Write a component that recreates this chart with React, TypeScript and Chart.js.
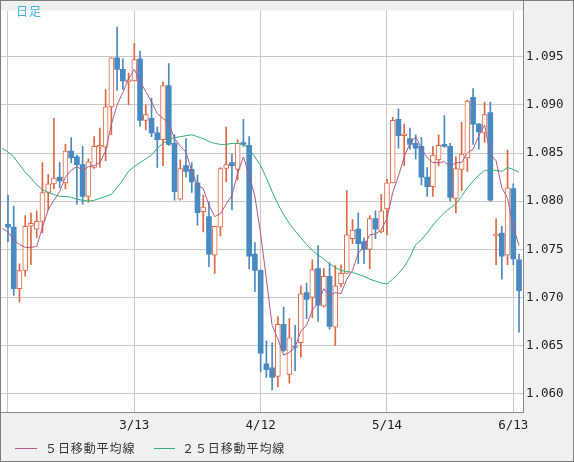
import React, { useEffect, useRef } from 'react';
import { Chart, registerables } from 'chart.js';

Chart.register(...registerables);

// Daily EUR/USD candles (index 0 = 2/12 ... 89 = 6/14)
const openP = [
  1.0776, 1.0773, 1.0709, 1.0728, 1.0774, 1.0771, 1.0779, 1.0809, 1.0818, 1.0825,
  1.0819, 1.0852, 1.0846, 1.0838, 1.0805, 1.0835, 1.0856, 1.0856, 1.0898, 1.0949,
  1.0937, 1.0924, 1.0925, 1.0948, 1.0884, 1.0886, 1.0871, 1.0864, 1.0920, 1.0860,
  1.0802, 1.0837, 1.0833, 1.0819, 1.0789, 1.0784, 1.0744, 1.0773, 1.0834, 1.0840,
  1.0833, 1.0861, 1.0858, 1.0745, 1.0728, 1.0631, 1.0627, 1.0618, 1.0672, 1.0620,
  1.0649, 1.0653, 1.0705, 1.0700, 1.0730, 1.0691, 1.0722, 1.0669, 1.0714, 1.0725,
  1.0761, 1.0771, 1.0758, 1.0750, 1.0782, 1.0768, 1.0792, 1.0819, 1.0885, 1.0868,
  1.0865, 1.0860, 1.0857, 1.0825, 1.0815, 1.0843, 1.0859, 1.0857, 1.0803, 1.0833,
  1.0845, 1.0908, 1.0880, 1.0871, 1.0892, 1.0764, 1.0767, 1.0744, 1.0813, 1.0739,
];
const highP = [
  1.0806, 1.0795, 1.0735, 1.0785, 1.0788, 1.0790, 1.0840, 1.0828, 1.0886, 1.0840,
  1.0859, 1.0866, 1.0848, 1.0857, 1.0844, 1.0867, 1.0876, 1.0916, 1.0949, 1.0981,
  1.0948, 1.0933, 1.0964, 1.0956, 1.0900, 1.0907, 1.0877, 1.0924, 1.0943, 1.0869,
  1.0843, 1.0865, 1.0840, 1.0827, 1.0806, 1.0799, 1.0774, 1.0835, 1.0877, 1.0849,
  1.0864, 1.0885, 1.0867, 1.0757, 1.0729, 1.0655, 1.0653, 1.0680, 1.0690, 1.0678,
  1.0671, 1.0712, 1.0715, 1.0739, 1.0754, 1.0730, 1.0736, 1.0733, 1.0734, 1.0811,
  1.0781, 1.0788, 1.0762, 1.0785, 1.0790, 1.0807, 1.0823, 1.0887, 1.0896, 1.0880,
  1.0876, 1.0869, 1.0866, 1.0835, 1.0857, 1.0869, 1.0889, 1.0860, 1.0846, 1.0882,
  1.0905, 1.0917, 1.0881, 1.0903, 1.0903, 1.0782, 1.0774, 1.0853, 1.0818, 1.0745,
];
const lowP = [
  1.0758, 1.0702, 1.0695, 1.0722, 1.0734, 1.0762, 1.0767, 1.0791, 1.0813, 1.0814,
  1.0813, 1.0840, 1.0797, 1.0797, 1.0799, 1.0834, 1.0835, 1.0842, 1.0869, 1.0915,
  1.0916, 1.0900, 1.0925, 1.0878, 1.0874, 1.0867, 1.0835, 1.0837, 1.0858, 1.0801,
  1.0801, 1.0825, 1.0809, 1.0775, 1.0768, 1.0732, 1.0725, 1.0764, 1.0820, 1.0791,
  1.0822, 1.0857, 1.0730, 1.0706, 1.0623, 1.0617, 1.0604, 1.0607, 1.0644, 1.0611,
  1.0624, 1.0638, 1.0678, 1.0679, 1.0675, 1.0690, 1.0667, 1.0650, 1.0711, 1.0725,
  1.0756, 1.0735, 1.0735, 1.0730, 1.0761, 1.0767, 1.0765, 1.0819, 1.0855, 1.0837,
  1.0854, 1.0844, 1.0817, 1.0805, 1.0805, 1.0837, 1.0856, 1.0800, 1.0788, 1.0811,
  1.0831, 1.0859, 1.0854, 1.0861, 1.0800, 1.0734, 1.0719, 1.0734, 1.0734, 1.0664,
];
const closeP = [
  1.0773, 1.0709, 1.0728, 1.0774, 1.0777, 1.0779, 1.0809, 1.0818, 1.0824, 1.0821,
  1.0852, 1.0845, 1.0838, 1.0805, 1.0841, 1.0857, 1.0857, 1.0898, 1.0949, 1.0937,
  1.0925, 1.0925, 1.0947, 1.0884, 1.0890, 1.0871, 1.0864, 1.0920, 1.0859, 1.0810,
  1.0834, 1.0831, 1.0820, 1.0788, 1.0794, 1.0745, 1.0774, 1.0834, 1.0838, 1.0837,
  1.0860, 1.0859, 1.0743, 1.0728, 1.0642, 1.0625, 1.0617, 1.0672, 1.0645, 1.0658,
  1.0648, 1.0704, 1.0698, 1.0729, 1.0692, 1.0722, 1.0670, 1.0712, 1.0725, 1.0765,
  1.0770, 1.0756, 1.0750, 1.0782, 1.0771, 1.0790, 1.0819, 1.0884, 1.0868, 1.0870,
  1.0859, 1.0855, 1.0825, 1.0815, 1.0848, 1.0858, 1.0857, 1.0804, 1.0834, 1.0849,
  1.0904, 1.0880, 1.0872, 1.0890, 1.0801, 1.0765, 1.0743, 1.0814, 1.0740, 1.0707,
];

// Moving averages, starting at index -1
const maStart = -1;
const ma5 = [
  1.0772,
  1.0768, 1.0760, 1.0755, 1.0752, 1.0752, 1.0753, 1.0773, 1.0791, 1.0801, 1.0810,
  1.0825, 1.0832, 1.0836, 1.0832, 1.0836, 1.0837, 1.0840, 1.0852, 1.0880, 1.0900,
  1.0913, 1.0927, 1.0937, 1.0924, 1.0914, 1.0903, 1.0891, 1.0886, 1.0881, 1.0865,
  1.0857, 1.0851, 1.0831, 1.0817, 1.0813, 1.0796, 1.0784, 1.0787, 1.0797, 1.0806,
  1.0829, 1.0846, 1.0827, 1.0805, 1.0766, 1.0719, 1.0671, 1.0657, 1.0640, 1.0643,
  1.0648, 1.0665, 1.0671, 1.0687, 1.0694, 1.0709, 1.0702, 1.0705, 1.0704, 1.0719,
  1.0728, 1.0746, 1.0753, 1.0765, 1.0766, 1.0770, 1.0782, 1.0809, 1.0826, 1.0846,
  1.0860, 1.0867, 1.0855, 1.0845, 1.0840, 1.0840, 1.0841, 1.0836, 1.0840, 1.0840,
  1.0850, 1.0854, 1.0868, 1.0879, 1.0849, 1.0842, 1.0814, 1.0803, 1.0773, 1.0754,
];
const ma25 = [
  1.0855,
  1.0851, 1.0846, 1.0838, 1.0830, 1.0824, 1.0817, 1.0812, 1.0809, 1.0807, 1.0805,
  1.0805, 1.0804, 1.0802, 1.0801, 1.0800, 1.0801, 1.0803, 1.0805, 1.0807, 1.0814,
  1.0822, 1.0831, 1.0836, 1.0840, 1.0844, 1.0848, 1.0855, 1.0860, 1.0864, 1.0866,
  1.0867, 1.0868, 1.0869, 1.0867, 1.0865, 1.0862, 1.0860, 1.0859, 1.0859, 1.0860,
  1.0860, 1.0859, 1.0854, 1.0846, 1.0837, 1.0824, 1.0810, 1.0797, 1.0786, 1.0777,
  1.0769, 1.0762, 1.0755, 1.0749, 1.0744, 1.0740, 1.0735, 1.0731, 1.0728, 1.0727,
  1.0726, 1.0724, 1.0722, 1.0719, 1.0717, 1.0715, 1.0714, 1.0719, 1.0725, 1.0732,
  1.0742, 1.0755, 1.0760, 1.0767, 1.0775, 1.0782, 1.0788, 1.0793, 1.0797, 1.0805,
  1.0814, 1.0821, 1.0827, 1.0832, 1.0832, 1.0832, 1.0831, 1.0835, 1.0833, 1.0830,
];

const gridIdx = [0, 22, 44, 66, 88];
const gridLabels = ['', '3/13', '4/12', '5/14', '6/13'];
const yTicks = [1.06, 1.065, 1.07, 1.075, 1.08, 1.085, 1.09, 1.095];
const legendLabels = ['５日移動平均線', '２５日移動平均線'];
const periodLabel = '日足';

const UP = '#e0673f';
const DOWN = '#4a8ac2';
const MA5C = '#b0598a';
const MA25C = '#2fb07a';

const framePlugin = {
  id: 'frame',
  beforeDraw(chart: any) {
    const { ctx, width, height, chartArea: a } = chart;
    ctx.save();
    ctx.fillStyle = '#f0f0f0';
    ctx.fillRect(0, 0, width, height);
    ctx.fillStyle = '#ffffff';
    ctx.fillRect(a.left, a.top, a.right - a.left, a.bottom - a.top);
    ctx.restore();
  },
  afterDraw(chart: any) {
    const { ctx, width, height, chartArea: a } = chart;
    ctx.save();
    ctx.lineWidth = 1;
    ctx.strokeStyle = '#8a8a8a';
    ctx.strokeRect(0.5, 0.5, a.right, a.bottom);
    ctx.strokeStyle = '#7c7c7c';
    ctx.strokeRect(0.5, 0.5, width - 1, height - 1);

    // period label
    ctx.fillStyle = '#3cb2e6';
    ctx.font = '12px "Noto Sans CJK JP"';
    ctx.textBaseline = 'middle';
    ctx.textAlign = 'left';
    (ctx as any).letterSpacing = '1px';
    ctx.fillText(periodLabel, 16, 11);

    // legend
    const ly = 448;
    const items = [
      { x: 15, w: 22, tx: 45, color: MA5C, text: legendLabels[0] },
      { x: 154, w: 21, tx: 182, color: MA25C, text: legendLabels[1] },
    ];
    items.forEach((it) => {
      ctx.strokeStyle = it.color;
      ctx.beginPath();
      ctx.moveTo(it.x, ly + 0.5);
      ctx.lineTo(it.x + it.w, ly + 0.5);
      ctx.stroke();
      ctx.fillStyle = '#333333';
      ctx.font = '12px "Noto Sans CJK JP"';
      (ctx as any).letterSpacing = '0.9px';
      ctx.fillText(it.text, it.tx, ly);
    });
    ctx.restore();
  },
};

export default function App() {
  const ref = useRef<HTMLCanvasElement | null>(null);

  useEffect(() => {
    document.body.style.margin = '0';
    const canvas = ref.current;
    if (!canvas) return;

    const upWick: any[] = [];
    const downWick: any[] = [];
    const upBody: any[] = [];
    const downBody: any[] = [];
    openP.forEach((o, i) => {
      const c = closeP[i];
      const wick = { x: i, y: [lowP[i], highP[i]] };
      if (c >= o) {
        upWick.push(wick);
        upBody.push({ x: i, y: [o, c] });
      } else {
        downWick.push(wick);
        downBody.push({ x: i, y: [c, o] });
      }
    });
    const ma5Data = ma5.map((v, k) => ({ x: k + maStart, y: v }));
    const ma25Data = ma25.map((v, k) => ({ x: k + maStart, y: v }));

    const barCommon = {
      type: 'bar' as const,
      grouped: false,
      borderSkipped: false,
    };

    const chart = new Chart(canvas, {
      type: 'bar',
      data: {
        datasets: [
          { ...barCommon, data: upWick, backgroundColor: UP, barThickness: 1, order: 5 } as any,
          { ...barCommon, data: downWick, backgroundColor: DOWN, barThickness: 1, order: 5 } as any,
          {
            ...barCommon,
            data: upBody,
            backgroundColor: '#ffffff',
            borderColor: UP,
            borderWidth: 1,
            barThickness: 5,
            minBarLength: 2,
            order: 4,
          } as any,
          {
            ...barCommon,
            data: downBody,
            backgroundColor: DOWN,
            borderWidth: 0,
            barThickness: 5,
            minBarLength: 1,
            order: 4,
          } as any,
          {
            type: 'line',
            data: ma25Data,
            borderColor: MA25C,
            borderWidth: 1,
            pointRadius: 0,
            tension: 0,
            order: 2,
          } as any,
          {
            type: 'line',
            data: ma5Data,
            borderColor: MA5C,
            borderWidth: 1,
            pointRadius: 0,
            tension: 0,
            order: 1,
          } as any,
        ],
      },
      options: {
        responsive: false,
        animation: false,
        events: [],
        layout: { padding: { left: 1, top: 1, right: 0, bottom: 0 } },
        plugins: {
          legend: { display: false },
          tooltip: { enabled: false },
          title: { display: false },
        },
        scales: {
          x: {
            type: 'linear',
            offset: false,
            min: -1.219,
            max: 89.69,
            grid: { color: '#c8c8c8', lineWidth: 1, drawTicks: false, offset: false },
            border: { display: false },
            afterBuildTicks: (s: any) => {
              s.ticks = gridIdx.map((v) => ({ value: v }));
            },
            afterFit: (s: any) => {
              s.height = 50;
            },
            ticks: {
              padding: 6,
              autoSkip: false,
              maxRotation: 0,
              color: '#222222',
              font: { family: '"DejaVu Sans Mono", monospace', size: 12.5 },
              callback: (v: any) => {
                const k = gridIdx.indexOf(Number(v));
                return k >= 0 ? gridLabels[k] : '';
              },
            },
          },
          y: {
            type: 'linear',
            position: 'right',
            min: 1.0581,
            max: 1.09981,
            grid: { color: '#c8c8c8', lineWidth: 1, drawTicks: false, offset: false },
            border: { display: false },
            afterBuildTicks: (s: any) => {
              s.ticks = yTicks.map((v) => ({ value: v }));
            },
            afterFit: (s: any) => {
              s.width = 51;
            },
            ticks: {
              padding: 3,
              color: '#222222',
              font: { family: '"DejaVu Sans Mono", monospace', size: 12.5 },
              callback: (v: any) => Number(v).toFixed(3),
            },
          },
        },
      } as any,
      plugins: [framePlugin as any],
    });

    return () => chart.destroy();
  }, []);

  return (
    <div style={{ width: 574, height: 462 }}>
      <canvas ref={ref} width={574} height={462} style={{ display: 'block', width: 574, height: 462 }} />
    </div>
  );
}
